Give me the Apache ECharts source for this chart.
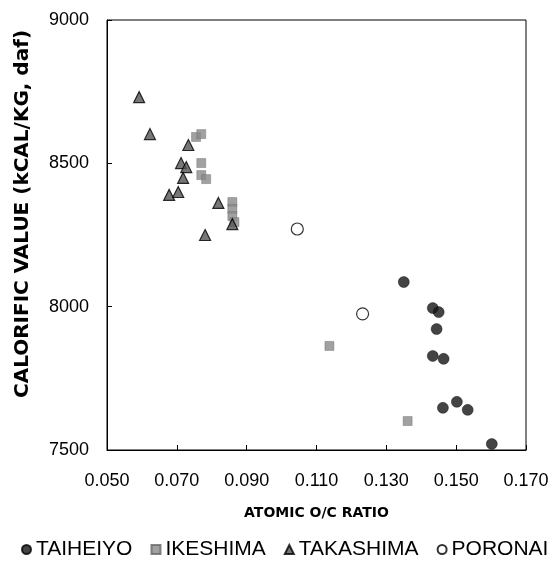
<!DOCTYPE html>
<html>
<head>
<meta charset="utf-8">
<script src="https://cdn.jsdelivr.net/npm/echarts@6/dist/echarts.min.js"></script>
<style>
    html, body { margin: 0; padding: 0; background: #fff; }
    #chart { width: 552px; height: 566px; }
</style>
</head>
<body>
<div id="chart"></div>
<script>
    // 数据：原子 O/C 比 与 发热量
    var taiheiyoX = [0.1350, 0.1433, 0.1450, 0.1444, 0.1433, 0.1464, 0.1462, 0.1502, 0.1533, 0.1602];
    var taiheiyoY = [8086, 7995, 7981, 7922, 7828, 7818, 7647, 7668, 7640, 7521];

    var ikeshimaX = [0.1361, 0.1137, 0.0755, 0.0770, 0.0770, 0.0770, 0.0784, 0.0859, 0.0859, 0.0859, 0.0865];
    var ikeshimaY = [7601, 7863, 8592, 8602, 8501, 8459, 8445, 8365, 8341, 8316, 8295];

    var takashimaX = [0.0592, 0.0623, 0.0733, 0.0712, 0.0727, 0.0718, 0.0678, 0.0704, 0.0819, 0.0859, 0.0781];
    var takashimaY = [8731, 8602, 8564, 8501, 8487, 8449, 8390, 8400, 8362, 8288, 8250];

    var poronaiX = [0.1045, 0.1232];
    var poronaiY = [8271, 7975];

    var xTicks = [0.05, 0.07, 0.09, 0.11, 0.13, 0.15, 0.17];
    var yTicks = [7500, 8000, 8500, 9000];

    var font = '"Liberation Sans", Arial, sans-serif';
    var boldFont = '"DejaVu Sans", Arial, sans-serif';

    function pairs(xs, ys) {
        var out = [];
        for (var i = 0; i < xs.length; i++) {
            out.push([xs[i], ys[i]]);
        }
        return out;
    }

    var chart = echarts.init(document.getElementById('chart'));
    var option = {
        animation: false,
        backgroundColor: '#fff',
        textStyle: {fontFamily: font},
        grid: {
            left: 107, right: 26, top: 20, bottom: 116,
            show: true, borderColor: '#000', borderWidth: 1
        },
        xAxis: {
            type: 'value',
            min: xTicks[0],
            max: xTicks[xTicks.length - 1],
            interval: 0.02,
            splitLine: {show: false},
            axisLine: {lineStyle: {color: '#000', width: 1}},
            axisTick: {inside: true, length: 5, lineStyle: {color: '#000'}},
            axisLabel: {
                margin: 22, color: '#000', fontSize: 18, fontFamily: font,
                formatter: function (v) { return v.toFixed(3); }
            },
            name: 'ATOMIC O/C RATIO',
            nameLocation: 'middle',
            nameGap: 56,
            nameTextStyle: {color: '#000', fontSize: 14, fontWeight: 'bold', fontFamily: boldFont}
        },
        yAxis: {
            type: 'value',
            min: yTicks[0],
            max: yTicks[yTicks.length - 1],
            interval: 500,
            splitLine: {show: false},
            axisLine: {show: true, lineStyle: {color: '#000', width: 1}},
            axisTick: {show: true, inside: true, length: 5, lineStyle: {color: '#000'}},
            axisLabel: {
                margin: 18, color: '#000', fontSize: 18, fontFamily: font,
                formatter: function (v) { return String(v); }
            }
        },
        graphic: [{
            type: 'text',
            x: 23, y: 214,
            rotation: Math.PI / 2,
            style: {
                text: 'CALORIFIC VALUE (kCAL/KG, daf)',
                fill: '#000',
                font: 'bold 20px ' + boldFont,
                align: 'center',
                verticalAlign: 'middle'
            }
        }],
        legend: {
            left: 16,
            top: 534,
            width: 546,
            itemWidth: 9,
            itemHeight: 9,
            itemGap: 18,
            textStyle: {color: '#000', fontSize: 21, fontFamily: font},
            data: [
                {name: 'TAIHEIYO', icon: 'circle'},
                {name: 'IKESHIMA', icon: 'rect'},
                {name: 'TAKASHIMA', icon: 'triangle'},
                {name: 'PORONAI', icon: 'circle'}
            ]
        },
        series: [
            {
                name: 'TAIHEIYO', type: 'scatter', symbol: 'circle', symbolSize: 11,
                itemStyle: {color: '#151515', borderColor: '#000', borderWidth: 0.5},
                data: pairs(taiheiyoX, taiheiyoY)
            },
            {
                name: 'IKESHIMA', type: 'scatter', symbol: 'rect', symbolSize: 9,
                itemStyle: {color: '#8a8a8a', borderColor: '#666', borderWidth: 0.5},
                data: pairs(ikeshimaX, ikeshimaY)
            },
            {
                name: 'TAKASHIMA', type: 'scatter', symbol: 'triangle', symbolSize: 11,
                itemStyle: {color: '#555', borderColor: '#000', borderWidth: 1.2},
                data: pairs(takashimaX, takashimaY)
            },
            {
                name: 'PORONAI', type: 'scatter', symbol: 'circle', symbolSize: 12,
                itemStyle: {color: '#fff', borderColor: '#000', borderWidth: 1.2},
                data: pairs(poronaiX, poronaiY)
            }
        ]
    };
    chart.setOption(option);
</script>
</body>
</html>
